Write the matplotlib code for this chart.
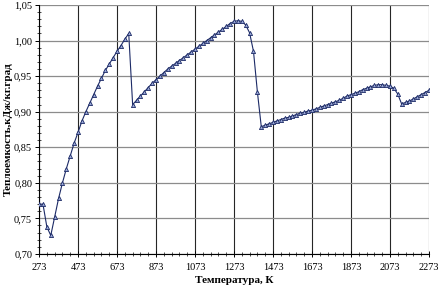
import numpy as np
import matplotlib
matplotlib.use("Agg")
import matplotlib.pyplot as plt
from matplotlib.ticker import MultipleLocator, FixedLocator, FuncFormatter

# temperature, K (one reading every 20 K)
temp = np.arange(273, 2274, 20)

# heat capacity, kJ/(kg*deg)
cp = [
    0.770, 0.770, 0.738, 0.726, 0.752, 0.778, 0.800, 0.820, 0.838, 0.856,  # 273-453
    0.871, 0.887, 0.900, 0.912, 0.924, 0.936, 0.947, 0.958, 0.967, 0.976,  # 473-653
    0.985, 0.993, 1.002, 1.010, 0.910, 0.916, 0.922, 0.928, 0.934, 0.940,  # 673-853
    0.945, 0.950, 0.955, 0.960, 0.964, 0.968, 0.972, 0.976, 0.980, 0.984,  # 873-1053
    0.988, 0.992, 0.996, 1.000, 1.004, 1.008, 1.012, 1.016, 1.020, 1.024,  # 1073-1253
    1.027, 1.028, 1.027, 1.022, 1.011, 0.985, 0.928, 0.879, 0.881, 0.883,  # 1273-1453
    0.885, 0.887, 0.889, 0.891, 0.892, 0.894, 0.896, 0.898, 0.899, 0.901,  # 1473-1653
    0.902, 0.904, 0.906, 0.908, 0.910, 0.912, 0.914, 0.916, 0.919, 0.922,  # 1673-1853
    0.924, 0.926, 0.928, 0.931, 0.933, 0.935, 0.937, 0.938, 0.938, 0.937,  # 1873-2053
    0.936, 0.933, 0.925, 0.911, 0.913, 0.915, 0.918, 0.921, 0.924, 0.927,  # 2073-2253
    0.930,                                                                  # 2273
]
xticks = np.arange(273, 2274, 200)

plt.rcParams['font.family'] = ['Liberation Serif', 'DejaVu Serif']

fig = plt.figure(figsize=(4.39, 2.97), dpi=100)
ax = fig.add_axes([0.089, 0.145, 0.888, 0.838])

ax.plot(temp, cp, color='#1c2a66', lw=0.8, marker='^', ms=3.0,
        mfc='#9aa8d8', mec='#1c2a66', mew=0.6, zorder=3)

ax.set_xlim(273, 2273)
ax.set_ylim(0.70, 1.05)
ax.set_xticks(xticks)
ax.xaxis.set_minor_locator(FixedLocator(np.arange(273, 2274, 40)))
ax.yaxis.set_major_locator(MultipleLocator(0.05))
ax.yaxis.set_minor_locator(MultipleLocator(0.01))
ax.yaxis.set_major_formatter(FuncFormatter(lambda v, p: f"{v:.2f}".replace('.', ',')))

ax.grid(axis='y', which='major', color='#8c8c8c', lw=0.9)
ax.grid(axis='x', which='major', color='#262626', lw=0.8)
ax.set_axisbelow(True)

for s in ('top', 'right'):
    ax.spines[s].set_visible(False)
ax.spines['left'].set_linewidth(0.8)
ax.spines['bottom'].set_linewidth(0.8)

ax.tick_params(axis='both', which='major', direction='out', length=3, width=0.7,
               labelsize=7.5, pad=2)
ax.tick_params(axis='both', which='minor', direction='inout', length=3, width=0.5)
ax.tick_params(axis='x', which='major', direction='inout', length=5, pad=4)

ax.set_xlabel('Температура, К', fontsize=8, fontweight='bold', labelpad=3)
ax.set_ylabel('Теплоемкость,кДж/кг.град', fontsize=8, fontweight='bold')
ax.yaxis.set_label_coords(-0.068, 0.5)

fig.savefig('out.png', dpi=100)
